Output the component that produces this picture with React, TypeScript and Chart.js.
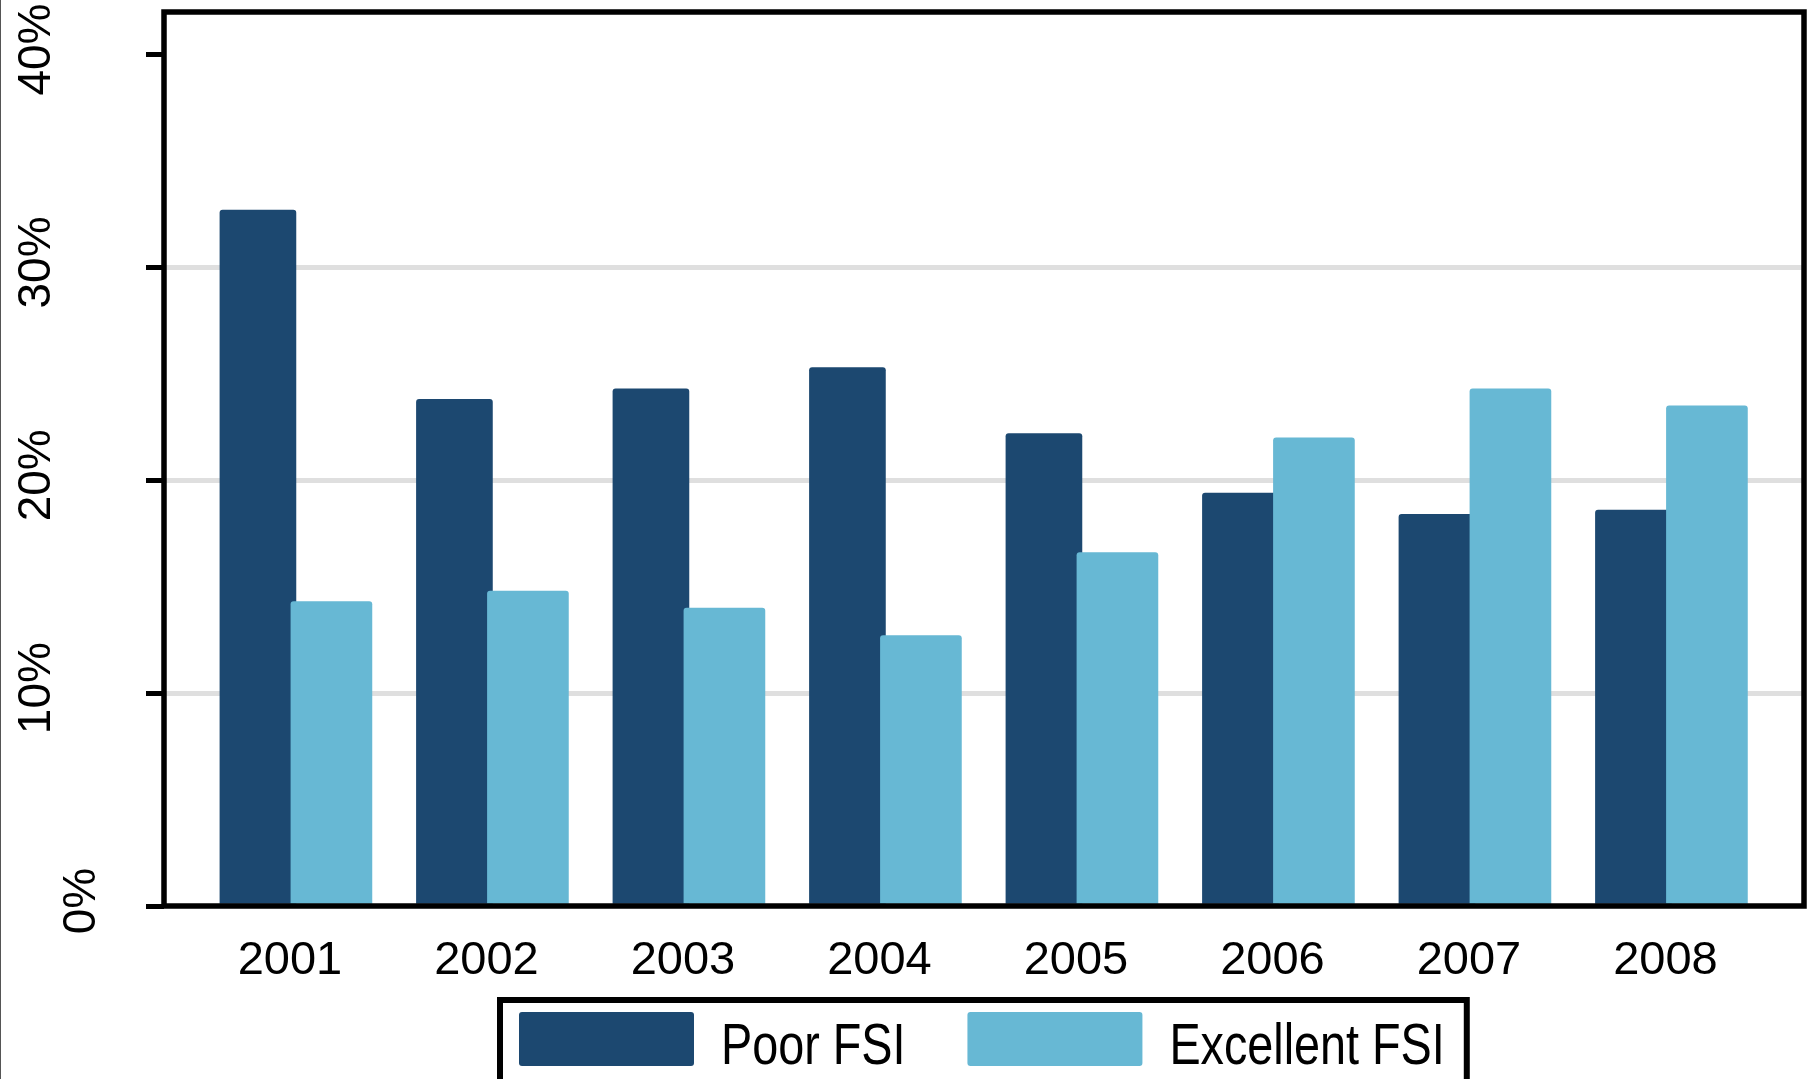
import { useEffect, useRef } from 'react';
import { Chart, registerables } from 'chart.js';

Chart.register(...registerables);

// Share of firms by FSI rating, per year (percent)
const YEARS = ['2001', '2002', '2003', '2004', '2005', '2006', '2007', '2008'];
const POOR_FSI = [32.7, 23.8, 24.3, 25.3, 22.2, 19.4, 18.4, 18.6];
const EXCELLENT_FSI = [14.3, 14.8, 14.0, 12.7, 16.6, 22.0, 24.3, 23.5];
const Y_TICKS = [0, 10, 20, 30, 40];
const SERIES_LABELS = ['Poor FSI', 'Excellent FSI'];

const POOR_COLOR = '#1c4870';
const EXCELLENT_COLOR = '#67b8d4';
const GRID_COLOR = '#dfdfdf';
const SANS = "'Liberation Sans', Arial, sans-serif";

// x axis layout: one unit per year, bars sit just either side of each year
const X_MIN = -0.641;
const X_MAX = 7.705;
const POOR_OFFSET = -0.163;
const EXCELLENT_OFFSET = 0.211;

const framePlugin = {
  id: 'frame',
  afterDraw(chart: any) {
    const { ctx, chartArea } = chart;
    const { left, top, right, bottom } = chartArea;
    ctx.save();
    ctx.strokeStyle = '#000';
    ctx.lineWidth = 5.5;
    ctx.lineJoin = 'miter';
    ctx.strokeRect(left, top, right - left, bottom - top);
    ctx.restore();
  },
};

const yLabelPlugin = {
  id: 'yLabels',
  afterDraw(chart: any) {
    const { ctx } = chart;
    const y = chart.scales.y;
    ctx.save();
    ctx.fillStyle = '#000';
    ctx.font = `46px ${SANS}`;
    ctx.textAlign = 'center';
    ctx.textBaseline = 'alphabetic';
    Y_TICKS.forEach((v) => {
      const py = y.getPixelForValue(v) - 5;
      const px = v === 0 ? 95 : 50;
      ctx.save();
      ctx.translate(px, py);
      ctx.rotate(-Math.PI / 2);
      ctx.fillText(`${v}%`, 0, 0);
      ctx.restore();
    });
    ctx.restore();
  },
};

// Legend in a framed box, text set slightly condensed
const legendPlugin = {
  id: 'boxLegend',
  afterDraw(chart: any) {
    const { ctx } = chart;
    const startX = 519;
    const swatchTop = 1012;
    const swatchW = 175;
    const swatchH = 54;
    const textGap = 27;
    const itemGap = 62;
    const baseline = 1064;
    const squeeze = 0.82;
    ctx.save();
    ctx.font = `57px ${SANS}`;
    ctx.textAlign = 'left';
    ctx.textBaseline = 'alphabetic';
    let x = startX;
    chart.data.datasets.forEach((ds: any, i: number) => {
      ctx.fillStyle = ds.backgroundColor;
      ctx.beginPath();
      ctx.roundRect(x, swatchTop, swatchW, swatchH, 3);
      ctx.fill();
      x += swatchW + textGap;
      ctx.fillStyle = '#000';
      ctx.save();
      ctx.translate(x, baseline);
      ctx.scale(squeeze, 1);
      ctx.fillText(ds.label, 0, 0);
      ctx.restore();
      x += ctx.measureText(ds.label).width * squeeze;
      if (i < chart.data.datasets.length - 1) x += itemGap;
    });
    ctx.strokeStyle = '#000';
    ctx.lineWidth = 6;
    ctx.strokeRect(500, 1000, x + 22 - 500, 120);
    ctx.restore();
  },
};

export default function App() {
  const ref = useRef<HTMLCanvasElement>(null);

  useEffect(() => {
    const chart = new Chart(ref.current!, {
      type: 'bar',
      data: {
        datasets: [
          {
            label: SERIES_LABELS[0],
            data: POOR_FSI.map((v, i) => ({ x: i + POOR_OFFSET, y: v })),
            backgroundColor: POOR_COLOR,
            barThickness: 76,
            borderRadius: 3,
            borderSkipped: 'bottom',
            grouped: false,
            order: 1,
          },
          {
            label: SERIES_LABELS[1],
            data: EXCELLENT_FSI.map((v, i) => ({ x: i + EXCELLENT_OFFSET, y: v })),
            backgroundColor: EXCELLENT_COLOR,
            barThickness: 81,
            borderRadius: 3,
            borderSkipped: 'bottom',
            grouped: false,
            order: 0,
          },
        ],
      } as any,
      options: {
        responsive: false,
        devicePixelRatio: 1,
        animation: false,
        layout: { padding: { top: 12, right: 10, left: 0, bottom: 0 } },
        plugins: {
          legend: { display: false },
          tooltip: { enabled: false },
        },
        scales: {
          x: {
            type: 'linear',
            offset: false,
            min: X_MIN,
            max: X_MAX,
            afterBuildTicks: (s: any) => {
              s.ticks = YEARS.map((_, i) => ({ value: i }));
            },
            afterFit: (s: any) => {
              s.height = 1079 - 906;
            },
            ticks: {
              callback: (v: any) => YEARS[v] ?? '',
              font: { family: SANS, size: 47 },
              color: '#000',
              padding: 27,
              autoSkip: false,
              maxRotation: 0,
              minRotation: 0,
            },
            grid: { display: false, drawTicks: false, offset: false },
            border: { display: false },
          },
          y: {
            type: 'linear',
            min: 0,
            max: 42,
            afterBuildTicks: (s: any) => {
              s.ticks = Y_TICKS.map((v) => ({ value: v }));
            },
            afterFit: (s: any) => {
              s.width = 164;
            },
            ticks: { display: false },
            grid: {
              color: (c: any) =>
                c.tick && c.tick.value > 0 && c.tick.value < 40 ? GRID_COLOR : 'rgba(0,0,0,0)',
              lineWidth: 5,
              drawTicks: true,
              tickLength: 18,
              tickWidth: 5,
              tickColor: '#000',
            },
            border: { display: false },
          },
        },
      } as any,
      plugins: [framePlugin, yLabelPlugin, legendPlugin],
    });
    return () => chart.destroy();
  }, []);

  return (
    <div
      style={{
        position: 'absolute',
        left: 0,
        top: 0,
        width: 1814,
        height: 1079,
        background: '#fff',
        overflow: 'hidden',
      }}
    >
      <canvas ref={ref} width={1814} height={1079} style={{ display: 'block' }} />
      <div
        style={{ position: 'absolute', left: 0, top: 0, width: 1, height: 1079, background: '#555' }}
      />
    </div>
  );
}
